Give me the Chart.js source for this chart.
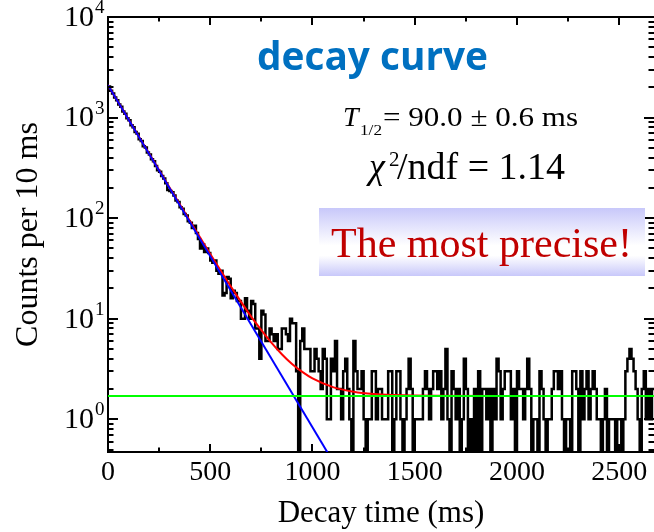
<!DOCTYPE html>
<html>
<head>
<meta charset="utf-8">
<title>Decay curve</title>
<script src="https://cdn.jsdelivr.net/npm/chart.js@4/dist/chart.umd.min.js"></script>
<style>
    html, body { margin: 0; padding: 0; background: #fff; }
    canvas { display: block; }
</style>
</head>
<body>
<canvas id="decay-chart" width="654" height="532"></canvas>
<script>
// Histogram : counts per 10 ms bin, starting at t = 0
const BIN_MS = 10;
const counts = [
    2040, 1850, 1740, 1580, 1490, 1350, 1280, 1150, 1090, 985,
    940, 840, 800, 720, 690, 610, 585, 520, 505, 450,
    430, 385, 368, 330, 300, 290, 262, 248, 222, 190,
    186, 181, 168, 150, 145, 128, 124, 110, 106, 93,
    90, 80, 84, 71, 62, 50, 55, 46, 50, 45,
    38, 36, 38, 30, 28, 30, 17, 18, 26, 25,
    16, 19, 18, 15, 15, 10, 10, 16, 12, 10,
    15, 14, 8, 8, 4, 12, 11, 6, 6, 8,
    7, 6, 7, 5, 5, 8, 8, 7, 6, 10,
    9, 9, 3, 0, 6, 8, 5, 5, 5, 3,
    3, 5, 4, 3, 2, 5, 4, 1, 1, 4,
    3, 6, 2, 2, 1, 3, 4, 2, 1, 0,
    6, 3, 2, 2, 3, 1, 0, 1, 1, 3,
    3, 1, 2, 2, 1, 1, 1, 3, 3, 0,
    1, 3, 3, 1, 0, 1, 2, 4, 2, 0,
    1, 1, 1, 1, 2, 3, 2, 1, 2, 3,
    3, 2, 3, 1, 2, 5, 1, 0, 3, 2,
    1, 2, 0, 1, 4, 2, 0, 1, 0, 2,
    0, 3, 0, 2, 2, 1, 2, 0, 2, 1,
    4, 3, 1, 2, 3, 3, 3, 1, 2, 0,
    3, 2, 2, 1, 2, 4, 2, 0, 1, 1,
    0, 3, 2, 1, 0, 1, 1, 2, 3, 3,
    2, 3, 1, 0, 1, 1, 0, 3, 3, 2,
    0, 3, 1, 2, 3, 1, 2, 3, 2, 1,
    1, 0, 1, 2, 0, 1, 1, 1, 0, 1,
    1, 0, 1, 3, 4, 5, 4, 3, 2, 1,
    0, 2, 3, 1, 2, 1, 2
];

// Fit : exponential + constant background
const fitTime   = [0, 100, 200, 300, 400, 500, 600, 650, 700, 750, 800, 850, 900, 950, 1000, 1100, 1200, 1300, 1400, 1600, 2000, 2670];
const fitCounts = [2102, 963, 442, 203, 94, 44, 21, 14.8, 10.5, 7.7, 5.75, 4.44, 3.55, 2.96, 2.55, 2.09, 1.88, 1.78, 1.74, 1.71, 1.70, 1.70];

// Pure exponential component (straight line in log)
const expTime   = [0, 1100];
const expCounts = [2100, 0.38];

// Constant background
const bgTime   = [0, 2670];
const bgCounts = [1.7, 1.7];

const xTickValues = [0, 500, 1000, 1500, 2000, 2500];
const yTickPowers = [0, 1, 2, 3, 4];

const X_MAX = 2670;
const Y_MIN = 0.473;
const Y_MAX = 10000;

const SERIF = '"Liberation Serif", "Times New Roman", serif';

function toPoints(xs, ys) {
    return xs.map((x, i) => ({x: x, y: ys[i]}));
}

// histogram points on the left edge of each bin, zero bins sent to the axis
const histPoints = counts.map((c, i) => ({x: i * BIN_MS, y: c > 0 ? c : Y_MIN}));
histPoints.push({x: counts.length * BIN_MS, y: histPoints[histPoints.length - 1].y});

// text squeezed/stretched horizontally to a given width
function fitText(ctx, str, x, y, w) {
    const m = ctx.measureText(str).width;
    ctx.save();
    ctx.translate(x, y);
    ctx.scale(w / m, 1);
    ctx.fillText(str, 0, 0);
    ctx.restore();
}

// Inward ticks on the four sides + top frame line
const frameTicks = {
    id: 'frameTicks',
    afterDatasetsDraw(chart) {
        const ctx = chart.ctx;
        const area = chart.chartArea;
        const xs = chart.scales.x;
        const ys = chart.scales.y;
        ctx.save();
        ctx.strokeStyle = '#000';
        ctx.lineWidth = 2;

        ctx.beginPath();
        ctx.moveTo(area.left - 1, area.top);
        ctx.lineTo(area.right + 2, area.top);
        ctx.stroke();

        // x ticks, every 250 ms
        for (let v = 0; v <= X_MAX; v += 250) {
            const px = Math.round(xs.getPixelForValue(v));
            const len = (v % 500 === 0) ? 8 : 4.5;
            ctx.beginPath();
            ctx.moveTo(px, area.bottom);
            ctx.lineTo(px, area.bottom - len);
            ctx.moveTo(px, area.top);
            ctx.lineTo(px, area.top + len);
            ctx.stroke();
        }

        // y ticks, decades and 2..9 inside each decade
        for (let p = -1; p <= 4; p++) {
            for (let k = 1; k <= 9; k++) {
                const v = k * Math.pow(10, p);
                if (v < Y_MIN || v > Y_MAX) continue;
                const py = Math.round(ys.getPixelForValue(v));
                const len = (k === 1) ? 10 : 5.5;
                ctx.beginPath();
                ctx.moveTo(area.left, py);
                ctx.lineTo(area.left + len, py);
                ctx.moveTo(area.right, py);
                ctx.lineTo(area.right - len, py);
                ctx.stroke();
            }
        }

        // y labels 10^n
        ctx.fillStyle = '#000';
        yTickPowers.forEach(function(p) {
            const py = ys.getPixelForValue(Math.pow(10, p));
            ctx.font = '30px ' + SERIF;
            ctx.textAlign = 'right';
            ctx.textBaseline = 'middle';
            ctx.fillText('10', 94, py + 1);
            ctx.font = '19px ' + SERIF;
            ctx.textAlign = 'left';
            ctx.textBaseline = 'alphabetic';
            ctx.fillText(String(p), 95, py - 4);
        });
        ctx.restore();
    },
    afterDraw(chart) {
        const ctx = chart.ctx;
        ctx.save();
        ctx.textAlign = 'left';
        ctx.textBaseline = 'alphabetic';

        // title
        ctx.fillStyle = '#0070c0';
        ctx.font = 'bold 40px "Open Sans", sans-serif';
        fitText(ctx, 'decay curve', 257, 70, 231);

        // half-life
        ctx.fillStyle = '#000';
        ctx.font = 'italic 28px ' + SERIF;
        ctx.fillText('T', 343, 126);
        ctx.font = '15px ' + SERIF;
        fitText(ctx, '1/2', 360, 135, 22);
        ctx.font = '28px ' + SERIF;
        fitText(ctx, '= 90.0 \u00b1 0.6 ms', 383, 126, 195);

        // chi2
        ctx.font = 'italic 36px ' + SERIF;
        ctx.fillText('\u03c7', 369, 178);
        ctx.font = '21px ' + SERIF;
        ctx.fillText('2', 389, 166);
        ctx.font = '37px ' + SERIF;
        fitText(ctx, '/ndf = 1.14', 397, 179, 168);

        // highlighted box
        const bx = 319, by = 208, bw = 326, bh = 68;
        const grad = ctx.createLinearGradient(0, by, 0, by + bh);
        grad.addColorStop(0, '#c8c8fa');
        grad.addColorStop(0.55, '#ffffff');
        grad.addColorStop(0.7, '#ffffff');
        grad.addColorStop(1, '#c8c8fa');
        ctx.fillStyle = grad;
        ctx.fillRect(bx, by, bw, bh);
        ctx.fillStyle = '#c00000';
        ctx.font = '42px ' + SERIF;
        fitText(ctx, 'The most precise!', 331, 257, 301);
        ctx.restore();
    }
};

const chart = new Chart(document.getElementById('decay-chart'), {
    type: 'line',
    data: {
        datasets: [
            {
                label: 'background',
                data: toPoints(bgTime, bgCounts),
                borderColor: '#00ff00',
                borderWidth: 2,
                pointRadius: 0,
                order: 0
            },
            {
                label: 'exponential',
                data: toPoints(expTime, expCounts),
                borderColor: '#0000ff',
                borderWidth: 2,
                pointRadius: 0,
                order: 1
            },
            {
                label: 'fit',
                data: toPoints(fitTime, fitCounts),
                borderColor: '#ff0000',
                borderWidth: 2,
                pointRadius: 0,
                cubicInterpolationMode: 'monotone',
                order: 2
            },
            {
                label: 'counts',
                data: histPoints,
                borderColor: '#000',
                borderWidth: 2.5,
                pointRadius: 0,
                stepped: true,
                order: 3
            }
        ]
    },
    options: {
        responsive: false,
        animation: false,
        layout: {padding: {top: 17, left: 0, right: 0, bottom: 0}},
        plugins: {
            legend: {display: false},
            tooltip: {enabled: false}
        },
        scales: {
            x: {
                type: 'linear',
                min: 0,
                max: X_MAX,
                grid: {display: false, drawTicks: false},
                border: {display: true, color: '#000', width: 2},
                afterBuildTicks: function(scale) {
                    scale.ticks = xTickValues.map(v => ({value: v}));
                },
                afterFit: function(scale) { scale.height = 80; },
                ticks: {
                    color: '#000',
                    font: {family: SERIF, size: 28},
                    padding: 4,
                    maxRotation: 0,
                    autoSkip: false,
                    callback: function(value) { return String(value); }
                },
                title: {
                    display: true,
                    text: 'Decay time (ms)',
                    color: '#000',
                    font: {family: SERIF, size: 31},
                    padding: {top: 0, bottom: 0}
                }
            },
            y: {
                type: 'logarithmic',
                min: Y_MIN,
                max: Y_MAX,
                grid: {display: false, drawTicks: false},
                border: {display: true, color: '#000', width: 2},
                ticks: {display: false},
                afterFit: function(scale) { scale.width = 108; },
                title: {
                    display: true,
                    text: 'Counts per 10 ms',
                    color: '#000',
                    font: {family: SERIF, size: 32},
                    padding: {top: 9, bottom: 9}
                }
            }
        }
    },
    plugins: [frameTicks]
});
</script>
</body>
</html>
